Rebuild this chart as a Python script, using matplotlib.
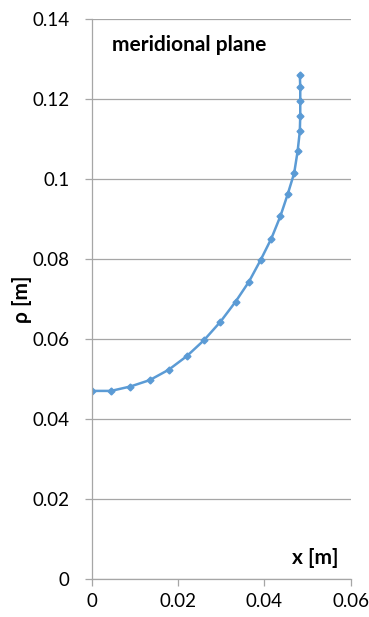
import numpy as np
import matplotlib.pyplot as plt

# meridional profile
x_m = [0.0, 0.0044, 0.0089, 0.0134, 0.0178, 0.0220, 0.0260, 0.0298, 0.0333,
       0.0364, 0.0391, 0.0416, 0.0437, 0.0454, 0.0469, 0.0477, 0.0482,
       0.0483, 0.0483, 0.0483, 0.0482]
rho_m = [0.0471, 0.0471, 0.0482, 0.0498, 0.0524, 0.0558, 0.0598, 0.0644,
         0.0694, 0.0744, 0.0798, 0.0852, 0.0908, 0.0963, 0.1016, 0.1071,
         0.1120, 0.1159, 0.1196, 0.1230, 0.1262]

x_ticks = [0, 0.02, 0.04, 0.06]
y_ticks = [0, 0.02, 0.04, 0.06, 0.08, 0.1, 0.12, 0.14]

plt.rcParams['font.family'] = ['Lato', 'DejaVu Sans']

fig = plt.figure(figsize=(3.69, 6.17), dpi=100)
ax = fig.add_axes([0.2493, 0.0611, 0.9504 - 0.2493, 0.9687 - 0.0611])

blue = "#5b9bd5"
ax.plot(x_m, rho_m, color=blue, lw=1.8, marker="D", ms=3.5, mec=blue, mfc=blue)

ax.set_xlim(0, 0.06)
ax.set_ylim(0, 0.14)
ax.set_xticks(x_ticks)
ax.set_xticklabels(["0", "0.02", "0.04", "0.06"])
ax.set_yticks(y_ticks)
ax.set_yticklabels(["0", "0.02", "0.04", "0.06", "0.08", "0.1", "0.12", "0.14"])
ax.grid(axis="y", color="#a6a6a6", lw=0.9)
ax.set_axisbelow(True)
for s in ["top", "right"]:
    ax.spines[s].set_visible(False)
for s in ["left", "bottom"]:
    ax.spines[s].set_color("#a6a6a6")
    ax.spines[s].set_linewidth(0.9)
ax.tick_params(colors="#a6a6a6", labelcolor="black", labelsize=13.5, length=5,
               width=0.9, direction="out")
ax.tick_params(axis="x", pad=5)
ax.tick_params(axis="y", pad=11)

ax.set_ylabel("ρ [m]", fontsize=15, fontweight="bold", va="center")
ax.yaxis.set_label_coords(-0.27, 0.5)
ax.text(0.951, 0.02, "x [m]", transform=ax.transAxes, ha="right", va="bottom",
        fontsize=15, fontweight="bold")
ax.text(0.078, 0.954, "meridional plane", transform=ax.transAxes, ha="left",
        va="center", fontsize=15, fontweight="bold")

fig.savefig("out.png", dpi=100)
